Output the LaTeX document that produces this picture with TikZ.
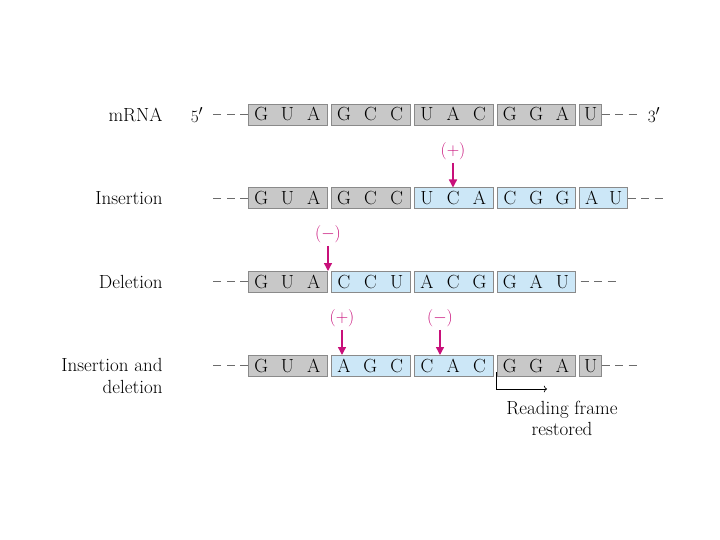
\documentclass[tikz,border=0pt]{standalone}
\usepackage{tikz}
\usetikzlibrary{arrows.meta,positioning}
\definecolor{codongray}{HTML}{C8C8C8}
\definecolor{codonblue}{HTML}{CCE7F7}
\definecolor{edgegray}{HTML}{8A8A8A}
\definecolor{mutmag}{HTML}{C8107A}
\newcommand{\nt}[2][26.3pt]{\makebox[#1]{#2}}

\begin{document}
\begin{tikzpicture}[x=1pt, y=-1pt,
  codon/.style={draw=edgegray, inner sep=0pt, outer sep=0pt, minimum height=21pt,
    text height=13pt, text depth=0pt, font=\fontsize{19}{22}\selectfont},
  old/.style={codon, fill=codongray},
  new/.style={codon, fill=codonblue},
  rowlabel/.style={font=\fontsize{19}{22}\selectfont, anchor=east, align=right},
  tail/.style={draw=gray!85!black, line width=0.8pt, dash pattern=on 8pt off 5.5pt},
  mut/.style={text=mutmag, font=\fontsize{16}{18}\selectfont, inner sep=1pt},
  hit/.style={draw=mutmag, line width=1.4pt, -{Triangle[length=8pt,width=8pt]}},
]
\useasboundingbox (0,0) rectangle (720,540);

% --- row labels ---
\node[rowlabel] (lmrna) at (166,115) {mRNA};
\node[rowlabel] (lins) at (166,198) {Insertion};
\node[rowlabel] (ldel) at (166,282) {Deletion};
\node[rowlabel] (lid) at (166,376) {Insertion and\\deletion};

% --- mRNA ---
\node[old, anchor=west] (m1) at (248,114.5) {\nt{G}\nt{U}\nt{A}};
\node[old, right=4pt of m1] (m2) {\nt{G}\nt{C}\nt{C}};
\node[old, right=4pt of m2] (m3) {\nt{U}\nt{A}\nt{C}};
\node[old, right=4pt of m3] (m4) {\nt{G}\nt{G}\nt{A}};
\node[old, right=4pt of m4] (m5) {\nt[22pt]{U}};
\node[rowlabel, anchor=center] (five) at (197,115) {$5'$};
\node[rowlabel, anchor=center] (three) at (654,115) {$3'$};
\coordinate (mL) at (213,114.5);
\coordinate (mR) at (637,114.5);
\draw[tail] (m1.west) -- (mL);
\draw[tail] (m5.east) -- (mR);

% --- insertion ---
\node[old, anchor=west] (i1) at (248,198) {\nt{G}\nt{U}\nt{A}};
\node[old, right=4pt of i1] (i2) {\nt{G}\nt{C}\nt{C}};
\node[new, right=4pt of i2] (i3) {\nt{U}\nt{C}\nt{A}};
\node[new, right=4pt of i3] (i4) {\nt{C}\nt{G}\nt{G}};
\node[new, right=4pt of i4] (i5) {\nt[24pt]{A}\nt[24pt]{U}};
\coordinate (iL) at (213,198);
\coordinate (iR) at (665,198);
\draw[tail] (i1.west) -- (iL);
\draw[tail] (i5.east) -- (iR);
\node[mut] (plus1) at (453,151) {$(+)$};
\coordinate (hitI) at (453,187.5);
\draw[hit] (plus1.south) ++(0,2) -- (hitI);

% --- deletion ---
\node[old, anchor=west] (d1) at (248,281.5) {\nt{G}\nt{U}\nt{A}};
\node[new, right=4pt of d1] (d2) {\nt{C}\nt{C}\nt{U}};
\node[new, right=4pt of d2] (d3) {\nt{A}\nt{C}\nt{G}};
\node[new, right=4pt of d3] (d4) {\nt{G}\nt{A}\nt{U}};
\coordinate (dL) at (213,281.5);
\coordinate (dR) at (617,281.5);
\draw[tail] (d1.west) -- (dL);
\draw[tail] ([xshift=5pt]d4.east) -- (dR);
\node[mut] (minus1) at (328,234) {$(-)$};
\coordinate (hitD) at (328,271);
\draw[hit] (minus1.south) ++(0,2) -- (hitD);

% --- insertion and deletion ---
\node[old, anchor=west] (b1) at (248,365.5) {\nt{G}\nt{U}\nt{A}};
\node[new, right=4pt of b1] (b2) {\nt{A}\nt{G}\nt{C}};
\node[new, right=4pt of b2] (b3) {\nt{C}\nt{A}\nt{C}};
\node[old, right=4pt of b3] (b4) {\nt{G}\nt{G}\nt{A}};
\node[old, right=4pt of b4] (b5) {\nt[22pt]{U}};
\coordinate (bL) at (213,365.5);
\coordinate (bR) at (637,365.5);
\draw[tail] (b1.west) -- (bL);
\draw[tail] (b5.east) -- (bR);
\node[mut] (plus2) at (342,318) {$(+)$};
\node[mut] (minus2) at (440,318) {$(-)$};
\coordinate (hitB1) at (342,355);
\coordinate (hitB2) at (440,355);
\draw[hit] (plus2.south) ++(0,2) -- (hitB1);
\draw[hit] (minus2.south) ++(0,2) -- (hitB2);

% --- reading frame restored ---
\coordinate (rfEnd) at (547,389);
\draw[->, line width=0.7pt] ([yshift=4pt]b4.south west) |- (rfEnd);
\node[font=\fontsize{19}{21}\selectfont, align=center] (rf) at (562,418) {Reading frame\\restored};
\end{tikzpicture}
\end{document}
